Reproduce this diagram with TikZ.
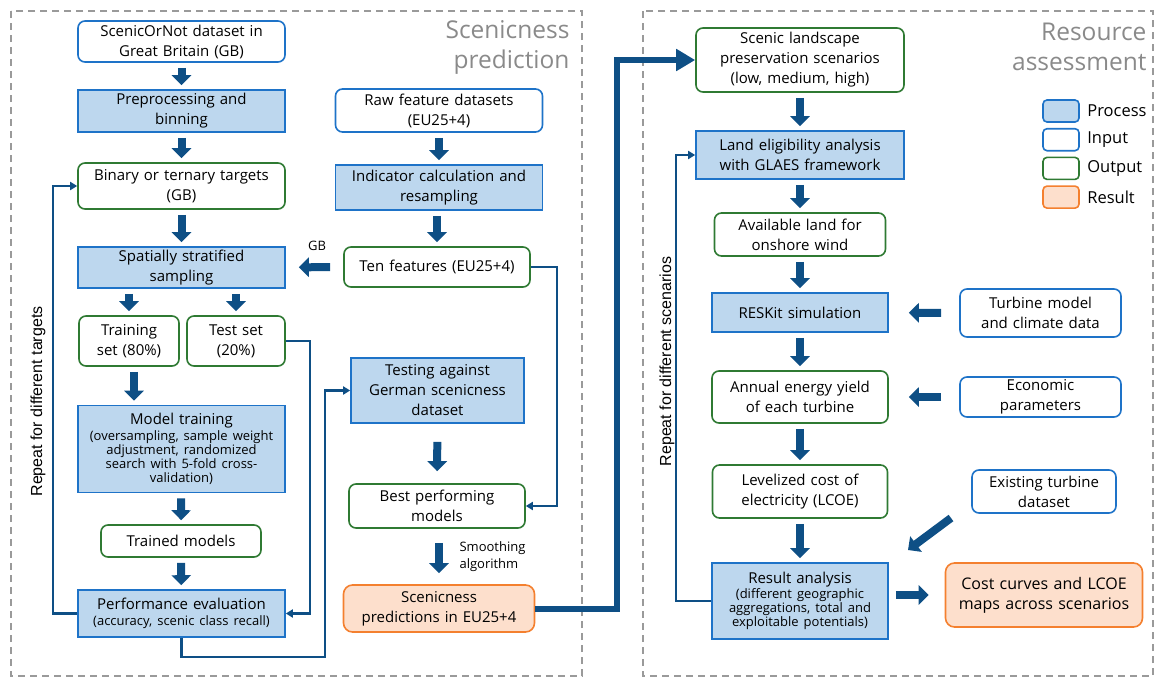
\documentclass[tikz,border=0pt]{standalone}
\usepackage{fontspec}
\setmainfont{Open Sans}
\newfontfamily\arialfont{Liberation Sans}
\usetikzlibrary{arrows.meta}

\definecolor{procfill}{HTML}{BDD7EE}
\definecolor{procline}{HTML}{1E73C8}
\definecolor{outline}{HTML}{2F7A33}
\definecolor{resline}{HTML}{F4802F}
\definecolor{resfill}{HTML}{FDDFCC}
\definecolor{arrowblue}{HTML}{0E4F85}
\definecolor{framegray}{HTML}{9A9A9A}
\definecolor{titlegray}{HTML}{8A8A8A}

% smaller second part of a box text
\newcommand{\subtxt}{\par\vspace{1.5pt}\fontsize{13}{14}\selectfont}

\tikzset{
	box/.style={line width=1.6pt, align=center, inner xsep=0pt, inner ysep=2pt,
		font=\fontsize{15}{20}\selectfont},
	proc/.style={box, draw=procline, fill=procfill},
	inbox/.style={box, draw=procline, fill=white, rounded corners=7pt},
	outbox/.style={box, draw=outline, fill=white, rounded corners=7pt},
	resbox/.style={box, draw=resline, fill=resfill, rounded corners=9pt},
	wh/.style 2 args={minimum width=#1pt, text width=#1pt, minimum height=#2pt},
	blk/.style={draw=arrowblue, line width=8pt, -{Triangle[width=19pt,length=10pt]},
		shorten <=5pt, shorten >=4pt},
	conn/.style={draw=arrowblue, line width=2.2pt, -{Triangle[width=8pt,length=7pt]}},
	feed/.style={draw=arrowblue, line width=6pt, -{Triangle[width=21pt,length=19pt]}},
	frame/.style={draw=framegray, line width=1.4pt, dash pattern=on 7pt off 5pt},
	ttl/.style={text=titlegray, align=right, font=\fontsize{24.5}{30}\selectfont},
	note/.style={font=\fontsize{13}{17}\selectfont},
	vert/.style={rotate=90, font=\arialfont\fontsize{16}{18}\selectfont},
}

\begin{document}
\begin{tikzpicture}[x=1pt,y=-1pt]
	\useasboundingbox (0,0) rectangle (1156,680);
	% the two dashed frames
	\draw[frame] (11,11) rectangle (582,676);
	\draw[frame] (643,11) rectangle (1153,676);
	\node[ttl, anchor=east] (ttlL) at (573,47) {Scenicness\\prediction};
	\node[ttl, anchor=east] (ttlR) at (1150,47) {Resource\\assessment};

	% --- scenicness prediction, left column
	\node[inbox, wh={207}{41}] (scen) at (181.5,41.5) {ScenicOrNot dataset in\\Great Britain (GB)};
	\node[proc, wh={207}{42}] (prep) at (181.5,111) {Preprocessing and\\binning};
	\node[outbox, wh={207}{46}] (targ) at (181.5,186) {Binary or ternary targets\\(GB)};
	\node[proc, wh={207}{41}] (samp) at (181.5,267.5) {Spatially stratified\\sampling};
	\node[outbox, wh={100}{50}] (train) at (129,341) {Training\\set (80\%)};
	\node[outbox, wh={98}{50}] (test) at (236,341) {Test set\\(20\%)};
	\node[proc, wh={207}{87}] (model) at (181.5,449) {Model training\subtxt
		(oversampling, sample weight\\adjustment, randomized\\search with 5-fold cross-\\validation)\par};
	\node[outbox, wh={160}{32}] (trained) at (181,541) {Trained models};
	\node[proc, wh={207}{47}] (perf) at (181.5,613.5) {Performance evaluation\subtxt
		(accuracy, scenic class recall)\par};

	% --- scenicness prediction, middle column
	\node[inbox, wh={207}{43}] (raw) at (439,110.5) {Raw feature datasets\\(EU25+4)};
	\node[proc, wh={207}{45}] (ind) at (439,187.5) {Indicator calculation and\\resampling};
	\node[outbox, wh={186}{40}] (ten) at (437,267) {Ten features (EU25+4)};
	\node[proc, wh={173}{65}] (testde) at (437.5,390.5) {Testing against\\German scenicness\\dataset};
	\node[outbox, wh={176}{44}] (best) at (437,506) {Best performing\\models};
	\node[resbox, wh={191}{47}] (pred) at (439,608.5) {Scenicness\\predictions in EU25+4};
	\node[note] (gblbl) at (317,246) {GB};
	\node[note, anchor=west, align=left] (smooth) at (456,557) {Smoothing\\algorithm};

	% --- resource assessment
	\node[outbox, wh={208}{64}] (land) at (800,60) {Scenic landscape\\preservation scenarios\\(low, medium, high)};
	\node[proc, wh={208}{48}] (glaes) at (800,155) {Land eligibility analysis\\with GLAES framework};
	\node[outbox, wh={171}{43}] (avail) at (800,234.5) {Available land for\\onshore wind};
	\node[proc, wh={176}{39}] (reskit) at (800,312.5) {RESKit simulation};
	\node[inbox, wh={161}{48}] (turb) at (1040.5,313) {Turbine model\\and climate data};
	\node[outbox, wh={176}{52}] (yield) at (800,397) {Annual energy yield\\of each turbine};
	\node[inbox, wh={161}{40}] (econ) at (1040.5,397) {Economic\\parameters};
	\node[outbox, wh={175}{53}] (lcoe) at (800,491.5) {Levelized cost of\\electricity (LCOE)};
	\node[inbox, wh={144}{43}] (exist) at (1044,491.5) {Existing turbine\\dataset};
	\node[proc, wh={176}{76}] (resan) at (800,601) {Result analysis\subtxt
		(different geographic\\aggregations, total and\\exploitable potentials)\par};
	\node[resbox, wh={197}{64}, font=\fontsize{16}{20}\selectfont] (cost) at (1044,595) {Cost curves and LCOE\\maps across scenarios};

	% legend
	\foreach \st/\nm [count=\i] in {proc/Process, inbox/Input, outbox/Output, resbox/Result}{
		\pgfmathsetmacro{\ly}{111+28.7*(\i-1)}
		\node[\st, minimum width=36pt, minimum height=22pt, rounded corners=4pt] (lg\i) at (1061,\ly) {};
		\node[anchor=west, font=\fontsize{16.5}{18}\selectfont] (lgt\i) at ([xshift=4pt]lg\i.east) {\nm};
	}

	% block arrows
	\draw[blk] (scen) -- (prep);
	\draw[blk] (prep) -- (targ);
	\draw[blk] (targ) -- (samp);
	\draw[blk] (samp.south -| train) -- (train);
	\draw[blk] (samp.south -| test) -- (test);
	\draw[blk] ([xshift=5pt]train.south) -- ([xshift=5pt]train.south |- model.north);
	\draw[blk] (model) -- (trained);
	\draw[blk] (trained) -- (perf);
	\draw[blk] (raw) -- (ind);
	\draw[blk] (ind.south -| ten) -- (ten);
	\draw[blk, shorten <=13pt, shorten >=13pt] (ten) -- (samp);
	\draw[blk, shorten <=18pt, shorten >=12pt] (testde) -- (best);
	\draw[blk, shorten <=14pt, shorten >=11pt] (best.south -| pred) -- (pred);
	\draw[blk] (land) -- (glaes);
	\draw[blk] (glaes) -- (avail);
	\draw[blk] (avail) -- (reskit);
	\draw[blk] (reskit) -- (yield);
	\draw[blk] (yield) -- (lcoe);
	\draw[blk] (lcoe) -- (resan);
	\draw[blk, shorten <=18pt, shorten >=20pt] (turb) -- (reskit);
	\draw[blk, shorten <=18pt, shorten >=20pt] (econ.west) -- (econ.west -| yield.east);
	\draw[blk, shorten <=7pt, shorten >=16pt] (resan.east |- cost) -- (cost);
	\coordinate (dtail) at (951,518);
	\coordinate (dtip) at (908,550);
	\draw[blk, shorten <=0pt, shorten >=0pt] (dtail) -- (dtip);

	% thin feedback lines
	\draw[conn] (ten.east) -- ++(26,0) |- (best.east);
	\draw[conn] (test.east) -- ++(24,0) |- (perf.east);
	\coordinate (loopA) at (325,656.7);
	\draw[conn] (perf.south) |- (loopA) |- (testde.west);
	\draw[conn] (perf.west) -- ++(-24.4,0) |- (targ.west);
	\draw[conn] (resan.west) -- ++(-35,0) |- (glaes.west);
	\draw[feed] (pred.east) -- ++(81.5,0) |- (land.west);

	\node[vert] (rptL) at (38,401.5) {Repeat for different targets};
	\node[vert] (rptR) at (667,361.5) {Repeat for different scenarios};
\end{tikzpicture}
\end{document}
